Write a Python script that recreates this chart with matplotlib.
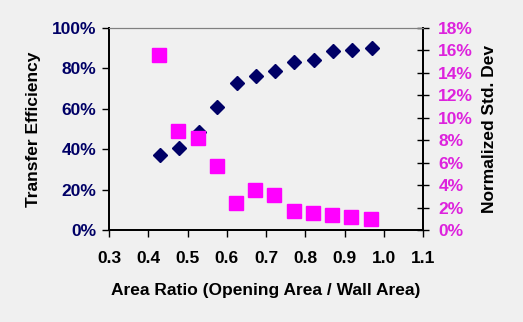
import numpy as np
import matplotlib
matplotlib.use("Agg")
import matplotlib.pyplot as plt
from matplotlib.ticker import FuncFormatter

# data
area_ratio = [0.43, 0.478, 0.529, 0.575, 0.626, 0.675, 0.723, 0.771, 0.822, 0.871, 0.919, 0.970]
transfer_eff = [0.37, 0.406, 0.485, 0.61, 0.73, 0.76, 0.787, 0.83, 0.84, 0.886, 0.89, 0.90]
sq_ratio = [0.427, 0.476, 0.527, 0.575, 0.624, 0.672, 0.721, 0.771, 0.820, 0.868, 0.917, 0.967]
norm_std = [0.156, 0.088, 0.082, 0.057, 0.024, 0.036, 0.031, 0.017, 0.015, 0.013, 0.012, 0.010]

bg = '#F0F0F0'
navy = '#000066'
mag = '#FF00FF'
mag_txt = '#DD22DD'

plt.rcParams['font.family'] = ['Liberation Sans', 'DejaVu Sans']
plt.rcParams['font.weight'] = 'bold'

fig = plt.figure(figsize=(5.23, 3.22), dpi=100, facecolor=bg)
ax = fig.add_axes([109/523, 1-230/322, 314/523, 202/322])
ax.set_facecolor(bg)
ax2 = ax.twinx()

ax.plot(area_ratio, transfer_eff, 'D', color=navy, ms=7.5, zorder=3)
ax2.plot(sq_ratio, norm_std, 's', color=mag, ms=10.5, zorder=2)

ax.set_xlim(0.3, 1.1)
ax.set_ylim(0, 1.0)
ax2.set_ylim(0, 0.18)
ax.set_xticks(np.arange(0.3, 1.11, 0.1))
ax.set_yticks(np.arange(0, 1.01, 0.2))
ax2.set_yticks(np.arange(0, 0.181, 0.02))
ax.xaxis.set_major_formatter(FuncFormatter(lambda v, p: f'{v:.1f}'))
ax.yaxis.set_major_formatter(FuncFormatter(lambda v, p: f'{v*100:.0f}%'))
ax2.yaxis.set_major_formatter(FuncFormatter(lambda v, p: f'{v*100:.0f}%'))

for a in (ax, ax2):
    a.spines['top'].set_color('#808080')
    a.spines['left'].set_color('black')
    a.spines['right'].set_color('black')
    a.spines['bottom'].set_color('black')
    a.spines['left'].set_linewidth(1.3)
    a.spines['bottom'].set_linewidth(1.3)
    a.spines['right'].set_linewidth(1.3)

ax.tick_params(axis='x', direction='out', length=5, width=1, labelsize=12.5, colors='black', pad=10)
ax.tick_params(axis='y', direction='out', length=5, width=1, labelsize=12.5, colors='black', labelcolor=navy, pad=4)
ax2.tick_params(axis='y', direction='inout', length=8, width=1, labelsize=12.5, colors='black', labelcolor=mag_txt, pad=7)

ax.set_xlabel('Area Ratio (Opening Area / Wall Area)', fontsize=12.5, fontweight='bold', labelpad=12)
ax.set_ylabel('Transfer Efficiency', fontsize=12.5, fontweight='bold', labelpad=8)
ax2.set_ylabel('Normalized Std. Dev', fontsize=12.5, fontweight='bold', labelpad=6)

fig.savefig('out.png', dpi=100, facecolor=bg)
